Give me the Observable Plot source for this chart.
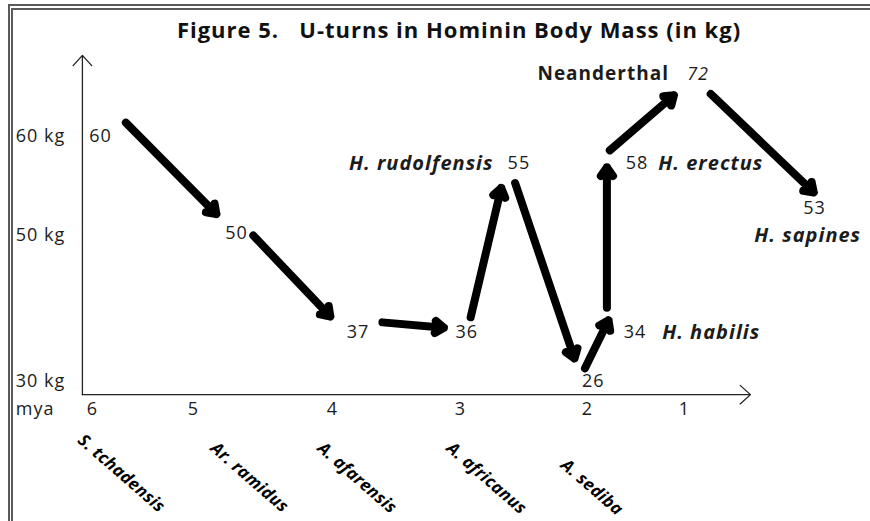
<!DOCTYPE html>
<html>
<head>
<meta charset="utf-8">
<script src="https://cdn.jsdelivr.net/npm/d3@7"></script>
<script src="https://cdn.jsdelivr.net/npm/@observablehq/plot@0.6"></script>
<style>
  html, body { margin: 0; padding: 0; background: #fff; }
  #page { position: relative; width: 870px; height: 521px; overflow: hidden; font-family: "Open Sans", sans-serif; background: #fff; }
  #frame { position: absolute; left: 8px; top: 4px; width: 900px; height: 560px; border-left: 5px double #5a5a5a; border-top: 6px double #5a5a5a; pointer-events: none; }
  #title { height: 48px; position: relative; }
  #title span { position: absolute; left: 459px; top: 29px; transform: translate(-50%, -50%); white-space: pre; font-weight: 700; font-size: 22px; letter-spacing: 1px; color: #111; }
  #chart svg { display: block; }
  #chart .species text { letter-spacing: 0.3px; }
</style>
</head>
<body>
<div id="page">
  <div id="title"><span>Figure 5.   U-turns in Hominin Body Mass (in kg)</span></div>
  <div id="chart"></div>
  <div id="frame"></div>
</div>
<script>
// ---- data (x: million years ago, y: plotted kg level) ----
const massLabels  = ["60", "50", "37", "36", "55", "26", "34", "58", "72", "53"];
const massMya     = [5.92, 4.69, 3.80, 2.95, 2.54, 1.94, 1.51, 1.49, 0.86, -0.34];
const massLevel   = [60, 50.2, 36.7, 36.7, 57.3, 30, 36.7, 57.3, 66.3, 52.8];

const taxaNames   = ["H. rudolfensis", "H. erectus", "Neanderthal", "H. sapines", "H. habilis"];
const taxaMya     = [2.74, 1.27, 1.16, -0.27, 1.23];
const taxaLevel   = [57.3, 57.3, 66.3, 50.0, 36.7];

const arrowFromMya = [5.67, 4.57, 3.61, 2.92, 2.57, 2.02, 1.80, 1.77, 0.73];
const arrowFromKg  = [61.4, 50.0, 38.1, 38.8, 55.3, 31.8, 40.1, 58.6, 64.3];
const arrowToMya   = [4.81, 3.99, 3.09, 2.67, 2.09, 1.76, 1.80, 1.07, -0.37];
const arrowToKg    = [51.8, 38.4, 37.3, 55.3, 32.5, 39.0, 57.4, 64.5, 54.0];

const speciesNames = ["S. tchadensis", "Ar. ramidus", "A. afarensis", "A. africanus", "A. sediba"];
const speciesMya   = [6.12, 4.86, 4.09, 3.09, 2.19];
const speciesLevel = [22.3, 21.2, 21.2, 21.2, 18.9];

const yTickLabels = ["60 kg", "50 kg", "30 kg"];
const yTickValues = [60, 50, 30];
const xTickValues = [6, 5, 4, 3, 2, 1];
const xUnitLabel  = "mya";

const axisStartMya = 6.10, axisEndMya = 0.32;
const axisBaseKg = 28.2, axisTopKg = 68.2;
const leftLabelMya = 6.76, tickLabelKg = 26.2;

// ---- build ----
const TOP = 48;
const ink = "#1c1c1c";
const FONT = "'Open Sans', sans-serif";

const massData = massLabels.map((t, i) => ({t, x: massMya[i], y: massLevel[i]}));
const taxaData = taxaNames.map((t, i) => ({t, x: taxaMya[i], y: taxaLevel[i]}));
const arrowData = arrowFromMya.map((x1, i) => ({x1, y1: arrowFromKg[i], x2: arrowToMya[i], y2: arrowToKg[i]}));
const speciesData = speciesNames.map((t, i) => ({t, x: speciesMya[i], y: speciesLevel[i]}));
const yTickData = yTickLabels.map((t, i) => ({t, y: yTickValues[i]}));
const axisData = [
  {x1: axisStartMya, y1: axisBaseKg, x2: axisStartMya, y2: axisTopKg},
  {x1: axisStartMya, y1: axisBaseKg, x2: axisEndMya, y2: axisBaseKg}
];

const chart = Plot.plot({
  width: 870,
  height: 521 - TOP,
  style: {fontFamily: FONT, background: "transparent", overflow: "visible", letterSpacing: "1px"},
  x: {type: "linear", domain: [6, 5, 4, 3, 2, 1], range: [92, 193, 332, 460, 587, 684], axis: null},
  y: {type: "linear", domain: [30, 50, 60], range: [381 - TOP, 235 - TOP, 136 - TOP], axis: null},
  marks: [
    Plot.arrow(axisData, {x1: "x1", y1: "y1", x2: "x2", y2: "y2", stroke: "#222", strokeWidth: 1.3, headLength: 16, headAngle: 84}),
    Plot.arrow(arrowData, {x1: "x1", y1: "y1", x2: "x2", y2: "y2", stroke: "#000", strokeWidth: 8, headLength: 2.0, headAngle: 70, strokeLinejoin: "miter", insetEnd: 5}),
    Plot.text(massData.filter(d => d.t !== "72"), {x: "x", y: "y", text: "t", fontSize: 18, fill: ink}),
    Plot.text(massData.filter(d => d.t === "72"), {x: "x", y: "y", text: "t", fontSize: 18, fontStyle: "italic", fill: ink}),
    Plot.text(taxaData.filter(d => d.t === "H. rudolfensis"), {x: "x", y: "y", text: "t", fontSize: 20, fontWeight: 700, fontStyle: "italic", textAnchor: "end", fill: ink}),
    Plot.text(taxaData.filter(d => d.t === "Neanderthal"), {x: "x", y: "y", text: "t", fontSize: 19, fontWeight: 700, textAnchor: "end", fill: ink}),
    Plot.text(taxaData.filter(d => d.t === "H. erectus" || d.t === "H. habilis"), {x: "x", y: "y", text: "t", fontSize: 20, fontWeight: 700, fontStyle: "italic", textAnchor: "start", fill: ink}),
    Plot.text(taxaData.filter(d => d.t === "H. sapines"), {x: "x", y: "y", text: "t", fontSize: 20, fontWeight: 700, fontStyle: "italic", fill: ink}),
    Plot.text(yTickData, {x: leftLabelMya, y: "y", text: "t", fontSize: 18, textAnchor: "start", fill: ink}),
    Plot.text([xUnitLabel], {x: leftLabelMya, y: tickLabelKg, text: d => d, fontSize: 18, textAnchor: "start", fill: ink}),
    Plot.text(xTickValues, {x: d => d, y: tickLabelKg, text: d => String(d), fontSize: 18, fill: ink}),
    Plot.text(speciesData, {x: "x", y: "y", text: "t", rotate: 41, fontSize: 17, fontWeight: 700, fontStyle: "italic", textAnchor: "start", fill: "#000", className: "species"})
  ]
});
document.getElementById("chart").appendChild(chart);
</script>
</body>
</html>
